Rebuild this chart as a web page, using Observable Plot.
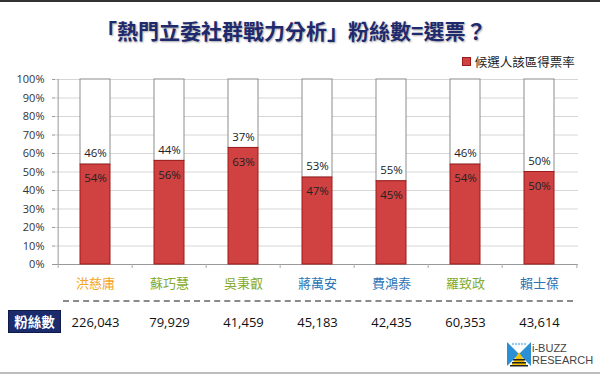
<!DOCTYPE html>
<html>
<head>
<meta charset="utf-8">
<script src="https://cdn.jsdelivr.net/npm/d3@7"></script>
<script src="https://cdn.jsdelivr.net/npm/@observablehq/plot@0.6"></script>
<style>
  html, body { margin: 0; padding: 0; background: #fff; }
  #wrap { position: relative; width: 600px; height: 375px; overflow: hidden; background: #fff;
          font-family: "Open Sans", "Noto Sans CJK TC", sans-serif; }
  #chart { position: absolute; left: 0; top: 0; }
  .topbar { position: absolute; left: 0; top: 0; width: 600px; height: 2px; background: #333; }
  .botbar { position: absolute; left: 0; top: 372px; width: 600px; height: 2px; background: #bdbdbd; }
  .title { position: absolute; left: 96px; top: 19px; font-family: "Noto Sans CJK TC", sans-serif;
           font-weight: bold; font-size: 21px; line-height: 22px; color: #1F2A6E; white-space: nowrap;
           text-shadow: 1px 1px 2px rgba(0,0,0,0.35); }
  .legend { position: absolute; left: 462px; top: 53px; font-size: 12.5px; line-height: 18px; color: #222;
            font-family: "Noto Sans CJK TC", sans-serif; white-space: nowrap; }
  .legend .sw { display: inline-block; width: 7px; height: 7px; background: #D04141; border: 1px solid #9E1B1B;
                margin-right: 1px; vertical-align: 1px; }
  .fanbox { position: absolute; left: 8px; top: 310px; width: 51px; height: 21px; background: #1C2B6B;
            border: 1px solid #0e1a4a; color: #fff; font-family: "Noto Sans CJK TC", sans-serif; font-weight: bold;
            font-size: 13.5px; line-height: 21px; text-align: center; }
  .dash { position: absolute; left: 63px; top: 300px; width: 510px; height: 0; border-top: 2px dashed #8a8a8a; }
  .logo { position: absolute; left: 507px; top: 342px; }
  .logotxt { position: absolute; left: 532px; top: 342px; font-family: "Liberation Sans", Arial, sans-serif;
             font-size: 11px; line-height: 12px; color: #444; }
</style>
</head>
<body>
<div id="wrap">
  <div id="chart"></div>
  <div class="topbar"></div>
  <div class="botbar"></div>
  <div class="title">「熱門立委社群戰力分析」粉絲數=選票？</div>
  <div class="legend"><span class="sw"></span> 候選人該區得票率</div>
  <div class="dash"></div>
  <div class="fanbox">粉絲數</div>
  <svg class="logo" width="24" height="25" viewBox="0 0 24 25">
    <polygon points="0,0 12,12 0,24" fill="#2B8FD6"/>
    <polygon points="24,0 12,12 24,24" fill="#2B8FD6"/>
    <polygon points="12,10 4,24 20,24" fill="#F2C200"/>
    <rect x="6" y="17" width="12" height="1.5" fill="#222"/>
    <rect x="5" y="20" width="14" height="1.5" fill="#222"/>
    <rect x="3" y="23" width="18" height="1.5" fill="#222"/>
    <circle cx="6" cy="2" r="1.2" fill="#9cc9ea"/><circle cx="9" cy="2" r="1.2" fill="#9cc9ea"/>
    <circle cx="12" cy="2" r="1.2" fill="#9cc9ea"/><circle cx="15" cy="2" r="1.2" fill="#9cc9ea"/>
    <circle cx="18" cy="2" r="1.2" fill="#9cc9ea"/>
  </svg>
  <div class="logotxt">i-BUZZ<br>RESEARCH</div>
</div>
<script>
// ---- data ----
const names = ["洪慈庸", "蘇巧慧", "吳秉叡", "蔣萬安", "費鴻泰", "羅致政", "賴士葆"];
const parties = ["時代力量", "民進黨", "民進黨", "國民黨", "國民黨", "民進黨", "國民黨"];
const voteShare = [0.54, 0.56, 0.63, 0.47, 0.45, 0.54, 0.50];
const restShare = [0.46, 0.44, 0.37, 0.53, 0.55, 0.46, 0.50];
const fans = [226043, 79929, 41459, 45183, 42435, 60353, 43614];
const yTicks = [0, 0.1, 0.2, 0.3, 0.4, 0.5, 0.6, 0.7, 0.8, 0.9, 1.0];
const partyDomain = ["時代力量", "民進黨", "國民黨"];

const data = names.map((n, i) => ({
  name: n, party: parties[i], vote: voteShare[i], rest: restShare[i], fans: fans[i]
}));

const W = 600, H = 375, mL = 55, mR = 22, mT = 79, mB = 111;
const step = (W - mL - mR) / names.length;
const pct = d3.format(".0%");
const num = d3.format(",");

const chart = Plot.plot({
  width: W, height: H,
  marginLeft: mL, marginRight: mR, marginTop: mT, marginBottom: mB,
  style: { fontFamily: '"Open Sans", "Noto Sans CJK TC", sans-serif', background: "transparent", color: "#222" },
  x: { domain: names, paddingInner: 0.6, paddingOuter: 0.3, axis: null },
  y: { domain: [0, 1], axis: null },
  color: { domain: partyDomain, range: ["#F5A623", "#86AC2F", "#2E74B5"] },
  marks: [
    Plot.ruleY(yTicks, { stroke: "#d6d6d6", strokeWidth: 1 }),
    Plot.axisY({ ticks: yTicks, tickFormat: pct, tickSize: 3, tickPadding: 8, fontSize: 11, label: null, stroke: "#999", fill: "#333" }),
    Plot.ruleX([names[0]], { y1: 0, y2: 1, dx: -step / 2, stroke: "#999" }),
    Plot.ruleY([0], { stroke: "#999" }),
    Plot.ruleX(names, { y1: 0, y2: -0.022, dx: -step / 2, stroke: "#aaa" }),
    Plot.ruleX([names[names.length - 1]], { y1: 0, y2: -0.022, dx: step / 2, stroke: "#aaa" }),
    Plot.barY(data, { x: "name", y1: "vote", y2: 1, fill: "#fff", stroke: "#8c8c8c" }),
    Plot.barY(data, { x: "name", y1: 0, y2: "vote", fill: "#D04141", stroke: "#9E1B1B" }),
    Plot.text(data, { x: "name", y: "vote", text: d => pct(d.vote), dy: 14, fontSize: 11.5, fill: "#222" }),
    Plot.text(data, { x: "name", y: "vote", text: d => pct(d.rest), dy: -11, fontSize: 11.5, fill: "#222" }),
    Plot.text(data, { x: "name", y: 0, text: "name", fill: "party", dy: 19, fontSize: 13,
                      fontFamily: '"Noto Sans CJK TC", sans-serif' }),
    Plot.text(data, { x: "name", y: 0, text: d => num(d.fans), dy: 58, fontSize: 13, fill: "#111" })
  ]
});
document.getElementById("chart").appendChild(chart);
</script>
</body>
</html>
